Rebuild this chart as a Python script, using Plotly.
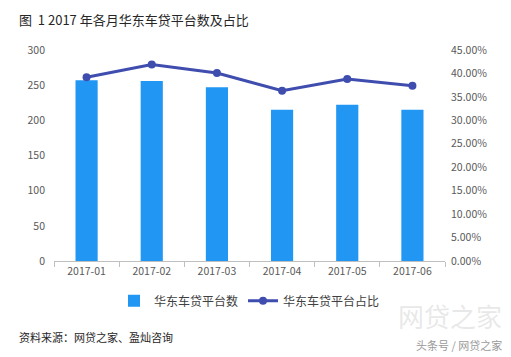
import plotly.graph_objects as go

months = ["2017-01", "2017-02", "2017-03", "2017-04", "2017-05", "2017-06"]
platform_counts = [257, 256, 247, 215, 222, 215]
share_ratio = [0.392, 0.419, 0.401, 0.363, 0.388, 0.374]

FONT = "Noto Sans CJK SC, Microsoft YaHei, sans-serif"

fig = go.Figure()
fig.add_trace(go.Bar(
    x=months, y=platform_counts, name="华东车贷平台数",
    marker=dict(color="#2196F3", line=dict(width=0)), width=0.34,
))
fig.add_trace(go.Scatter(
    x=months, y=share_ratio, name="华东车贷平台占比", yaxis="y2",
    mode="lines+markers",
    line=dict(color="#3F4DAF", width=3),
    marker=dict(color="#3F4DAF", size=8),
))

# page body has an 8px default margin, so the figure is sized 503x349
fig.update_layout(
    width=503, height=349,
    margin=dict(l=46, r=66, t=42, b=96),
    paper_bgcolor="white", plot_bgcolor="white",
    font=dict(family=FONT, size=11, color="#595959"),
    showlegend=True,
    legend=dict(orientation="h", x=0.5, xanchor="center", y=-0.12, yanchor="top",
                font=dict(size=12, color="#404040"), itemwidth=30,
                tracegroupgap=0),
    xaxis=dict(
        type="category", showline=True, linecolor="#BFBFBF", linewidth=1,
        ticks="outside", tickson="boundaries", ticklen=5, tickcolor="#BFBFBF",
        showgrid=False, tickfont=dict(size=10.5, color="#595959"),
    ),
    yaxis=dict(
        range=[0, 300], dtick=50, showgrid=False, zeroline=False,
        showline=False, tickfont=dict(size=10.5, color="#595959"),
        ticks="", ticklabelstandoff=8,
    ),
    yaxis2=dict(
        overlaying="y", side="right", range=[0, 0.45], dtick=0.05,
        tickformat=".2%", showgrid=False, zeroline=False, showline=False,
        tickfont=dict(size=10.5, color="#595959"), ticklabelstandoff=5,
    ),
)

fig.add_annotation(
    text="图  1 2017 年各月华东车贷平台数及占比", xref="paper", yref="paper",
    x=-0.095, y=1.0, yshift=42, xanchor="left", yanchor="top",
    showarrow=False, font=dict(size=13, color="#262626", family=FONT),
)
fig.add_annotation(
    text="资料来源：网贷之家、盈灿咨询", xref="paper", yref="paper",
    x=-0.095, y=0, yshift=-76, xanchor="left", yanchor="middle",
    showarrow=False, font=dict(size=11, color="#262626", family=FONT),
)
fig.add_annotation(
    text="网贷之家", xref="paper", yref="paper",
    x=1.15, y=0, yshift=-54, xanchor="right", yanchor="middle",
    showarrow=False, font=dict(size=26, color="rgba(190,190,190,0.35)", family=FONT),
)
fig.add_annotation(
    text="头条号 / 网贷之家", xref="paper", yref="paper",
    x=1.15, y=0, yshift=-84, xanchor="right", yanchor="middle",
    showarrow=False, font=dict(size=11, color="#9a9a9a", family=FONT),
)

fig.write_html("out.html")
